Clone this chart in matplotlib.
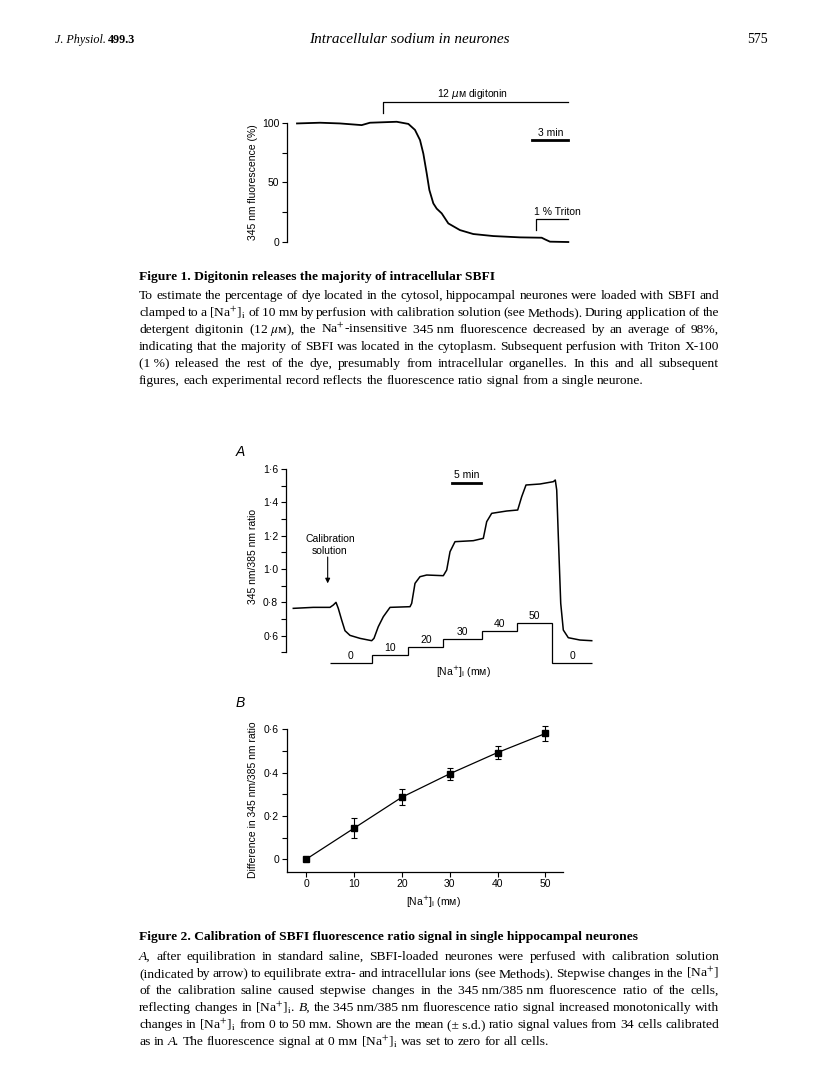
import numpy as np
import matplotlib
matplotlib.use("Agg")
import matplotlib.pyplot as plt
from matplotlib.ticker import FuncFormatter

plt.rcParams["mathtext.fontset"] = "stix"

SERIF = ["Liberation Serif", "DejaVu Serif", "DejaVu Sans"]
SANS = ["Liberation Sans", "DejaVu Sans"]

# Figure 1: 345 nm fluorescence (%) against time (min)
fig1_time = [0, 1.92, 3.58, 5.39, 6.08, 8.31, 9.28, 9.83, 10.25, 10.53, 10.81,
             11.03, 11.36, 11.64, 12.06, 12.61, 13.58, 14.69, 16.36, 18.58,
             20.39, 20.67, 21.08, 22.61]
fig1_fluor = [99.4, 100, 99.4, 98, 100, 100.8, 99, 94, 85.5, 74, 57.5,
              43.6, 32.4, 28, 24, 15.6, 10, 6.7, 5, 3.9,
              3.6, 2.2, 0.3, 0]
digitonin_on = 7.19
triton_on = 19.92

# Figure 2A: ratio trace against time (min)
trace_time = [0, 3.49, 6.40, 6.98, 7.45, 7.85, 8.44, 9.02, 9.89, 11.64, 13.68,
              14.08, 14.83, 15.71, 16.88, 20.37, 20.66, 21.24, 22.11, 23.28,
              26.18, 26.77, 27.35, 28.22, 31.41, 33.16, 33.75, 34.62, 37.24,
              39.16, 39.86, 40.61, 43.05, 45.38, 45.72, 45.97, 46.25, 46.67,
              47.12, 47.99, 50.03, 52.08]
trace_ratio = [0.764, 0.77, 0.77, 0.784, 0.80, 0.764, 0.694, 0.63, 0.602, 0.584, 0.57,
               0.584, 0.654, 0.714, 0.77, 0.774, 0.794, 0.914, 0.954, 0.964,
               0.96, 0.994, 1.104, 1.164, 1.17, 1.184, 1.284, 1.334, 1.348,
               1.354, 1.434, 1.504, 1.51, 1.524, 1.534, 1.474, 1.194, 0.794,
               0.634, 0.588, 0.574, 0.57]
na_steps = [0, 10, 20, 30, 40, 50, 0]
step_edges = [6.40, 13.68, 20.07, 26.18, 32.87, 38.99, 45.20, 52.08]
step_labels = ["0", "10", "20", "30", "40", "50", "0"]

# Figure 2B: calibration curve
na_conc = [0, 10, 20, 30, 40, 50]
ratio_diff = [0, 0.143, 0.286, 0.394, 0.492, 0.58]
ratio_sd = [0, 0.046, 0.037, 0.028, 0.028, 0.034]

W, H = 816, 1088
fig = plt.figure(figsize=(W / 100, H / 100), dpi=100)
renderer = fig.canvas.get_renderer()


def add_ax(left, top, right, bottom):
    return fig.add_axes([left / W, 1 - bottom / H, (right - left) / W, (bottom - top) / H])


def ftext(x, y, s, **kw):
    return fig.text(x / W, 1 - y / H, s, **kw)


def style_axis(ax):
    for side in ["top", "right", "bottom"]:
        ax.spines[side].set_visible(False)
    ax.spines["left"].set_linewidth(0.9)
    ax.tick_params(axis="y", which="both", direction="out", length=3.5, width=0.8,
                   labelsize=7.5, pad=2)
    ax.set_xticks([])
    ax.patch.set_alpha(0)
    for lab in ax.get_yticklabels():
        lab.set_family(SANS)


dot_fmt = FuncFormatter(lambda v, p: "0" if abs(v) < 1e-9 else f"{v:.1f}".replace(".", "\u00b7"))

# ---------------- header ----------------
jp = ftext(55, 43, "J. Physiol.", fontsize=8.7, style="italic", family=SERIF, va="baseline")
jp_w = jp.get_window_extent(renderer).width
ftext(55 + jp_w + 2, 43, "499.3", fontsize=8.7, weight="bold", family=SERIF, va="baseline")
ftext(409, 43, "Intracellular sodium in neurones", fontsize=11, style="italic",
      family=SERIF, ha="center", va="baseline")
ftext(768, 43, "575", fontsize=10, family=SERIF, ha="right", va="baseline")

# ---------------- Figure 1 ----------------
ax1 = add_ax(286.8, 92.9, 585, 245.6)
ax1.plot(fig1_time, fig1_fluor, color="black", lw=1.3, clip_on=False)
ax1.set_xlim(-0.85, 24.0)
ax1.set_ylim(-3, 125)
ax1.set_yticks([0, 50, 100])
ax1.set_yticks([25, 75], minor=True)
ax1.spines["left"].set_bounds(0, 100)
style_axis(ax1)
ax1.plot([digitonin_on, digitonin_on, fig1_time[-1]], [108, 117.3, 117.3],
         color="black", lw=0.9, clip_on=False)
ax1.text(14.6, 124.4, "12 $\\mu$\u1d0d digitonin", fontsize=7.5, family=SANS,
         ha="center", va="center", math_fontfamily="dejavusans")
ax1.plot([triton_on, triton_on, fig1_time[-1]], [10, 19.5, 19.5],
         color="black", lw=0.9, clip_on=False)
ax1.text(21.7, 25.4, "1 % Triton", fontsize=7.5, family=SANS, ha="center", va="center")
ax1.plot([19.6, 22.6], [85.5, 85.5], color="black", lw=2, clip_on=False)
ax1.text(21.1, 91.6, "3 min", fontsize=7.5, family=SANS, ha="center", va="center")
ftext(253, 182, "345 nm fluorescence (%)", fontsize=7.5, family=SANS,
      rotation=90, ha="center", va="center")

# ---------------- Figure 2A ----------------
ax2 = add_ax(285.85, 459.0, 597, 655.7)
ax2.plot(trace_time, trace_ratio, color="black", lw=1.1, clip_on=False)
ax2.set_xlim(-1.3, 53)
ax2.set_ylim(0.48, 1.66)
ax2.set_yticks([0.6, 0.8, 1.0, 1.2, 1.4, 1.6])
ax2.set_yticks(np.arange(0.5, 1.65, 0.1), minor=True)
ax2.yaxis.set_major_formatter(dot_fmt)
ax2.spines["left"].set_bounds(0.5, 1.6)
style_axis(ax2)
ax2.plot([27.75, 32.75], [1.514, 1.514], color="black", lw=2, clip_on=False)
ax2.text(30.26, 1.564, "5 min", fontsize=7.5, family=SANS, ha="center", va="center")
ax2.text(6.4, 1.144, "Calibration\nsolution", fontsize=7.5, family=SANS,
         ha="center", va="center", linespacing=1.25)
ax2.annotate("", xy=(6.0, 0.914), xytext=(6.0, 1.072),
             arrowprops=dict(arrowstyle="-|>", lw=0.8, color="black",
                             mutation_scale=7, shrinkA=0, shrinkB=0))
ftext(253, 557, "345 nm/385 nm ratio", fontsize=7.5, family=SANS,
      rotation=90, ha="center", va="center")
ftext(240, 452, "A", fontsize=10, style="italic", family=SANS, ha="center", va="center")

ax_st = add_ax(285.85, 600, 597, 690)
ax_st.stairs(na_steps, step_edges, baseline=None, color="black", lw=0.9)
ax_st.set_xlim(-1.3, 53)
ax_st.set_ylim(-32.96, 78.15)
ax_st.axis("off")
for i, lab in enumerate(step_labels):
    mid = (step_edges[i] + step_edges[i + 1]) / 2
    ax_st.annotate(lab, (mid, na_steps[i]), xytext=(0, 1.5), textcoords="offset points",
                   fontsize=7.5, family=SANS, ha="center", va="bottom")
ftext(463, 672, "[Na$^{+}$]$_{\\mathrm{i}}$ (m\u1d0d)", fontsize=7.5, family=SANS,
      ha="center", va="center", math_fontfamily="dejavusans")

# ---------------- Figure 2B ----------------
ax3 = add_ax(286.7, 722.6, 563.2, 871.7)
ax3.errorbar(na_conc, ratio_diff, yerr=ratio_sd, color="black", lw=0.9,
             marker="s", markersize=5, capsize=2.2, elinewidth=0.8, capthick=0.8)
ax3.set_xlim(-4.03, 53.7)
ax3.set_ylim(-0.057, 0.63)
ax3.set_yticks([0, 0.2, 0.4, 0.6])
ax3.set_yticks([0.1, 0.3, 0.5], minor=True)
ax3.yaxis.set_major_formatter(dot_fmt)
ax3.spines["left"].set_bounds(-0.057, 0.6)
style_axis(ax3)
ax3.spines["bottom"].set_visible(True)
ax3.spines["bottom"].set_linewidth(0.9)
ax3.set_xticks(na_conc)
ax3.tick_params(axis="x", direction="out", length=3.5, width=0.8, labelsize=7.5, pad=2)
for lab in ax3.get_xticklabels():
    lab.set_family(SANS)
ftext(253, 800, "Difference in 345 nm/385 nm ratio", fontsize=7.5, family=SANS,
      rotation=90, ha="center", va="center")
ftext(433, 902, "[Na$^{+}$]$_{\\mathrm{i}}$ (m\u1d0d)", fontsize=7.5, family=SANS,
      ha="center", va="center", math_fontfamily="dejavusans")
ftext(240, 703, "B", fontsize=10, style="italic", family=SANS, ha="center", va="center")

# ---------------- captions ----------------
X0, X1 = 139, 719
CAP = 9.7
NA_I = "[Na$^{+}$]$_{\\mathrm{i}}$"


def place_line(y, line, justify=True, size=CAP):
    texts = []
    for w in line.split(" "):
        st = "normal"
        if len(w) > 2 and w.startswith("_") and w.endswith("_"):
            w, st = w[1:-1], "italic"
        texts.append(ftext(X0, y, w, fontsize=size, family=SERIF, style=st, va="baseline"))
    widths = [t.get_window_extent(renderer).width for t in texts]
    space = 0.25 * size * 100 / 72
    if justify and len(texts) > 1:
        space = (X1 - X0 - sum(widths)) / (len(texts) - 1)
    x = X0
    for t, w in zip(texts, widths):
        t.set_x(x / W)
        x += w + space


fig1_caption = [
    "To estimate the percentage of dye located in the cytosol, hippocampal neurones were loaded with SBFI and",
    f"clamped to a {NA_I} of 10\u00a0m\u1d0d by perfusion with calibration solution (see Methods). During application of the",
    "detergent digitonin (12\u00a0$\\mu$\u1d0d), the Na$^{+}$-insensitive 345\u00a0nm fluorescence decreased by an average of 98%,",
    "indicating that the majority of SBFI was located in the cytoplasm. Subsequent perfusion with Triton X-100",
    "(1\u00a0%) released the rest of the dye, presumably from intracellular organelles. In this and all subsequent",
    "figures, each experimental record reflects the fluorescence ratio signal from a single neurone.",
]
fig2_caption = [
    "_A,_ after equilibration in standard saline, SBFI-loaded neurones were perfused with calibration solution",
    "(indicated by arrow) to equilibrate extra- and intracellular ions (see Methods). Stepwise changes in the [Na$^{+}$]",
    "of the calibration saline caused stepwise changes in the 345\u00a0nm/385\u00a0nm fluorescence ratio of the cells,",
    f"reflecting changes in {NA_I}. _B,_ the 345\u00a0nm/385\u00a0nm fluorescence ratio signal increased monotonically with",
    f"changes in {NA_I} from 0 to 50\u00a0m\u1d0d. Shown are the mean (\u00b1\u00a0s.d.) ratio signal values from 34 cells calibrated",
    f"as in _A._ The fluorescence signal at 0\u00a0m\u1d0d {NA_I} was set to zero for all cells.",
]

ftext(X0, 280, "Figure 1. Digitonin releases the majority of intracellular SBFI",
      fontsize=CAP, weight="bold", family=SERIF, va="baseline")
for k, line in enumerate(fig1_caption):
    place_line(299 + 17 * k, line, justify=k < len(fig1_caption) - 1)

ftext(X0, 940, "Figure 2. Calibration of SBFI fluorescence ratio signal in single hippocampal neurones",
      fontsize=CAP, weight="bold", family=SERIF, va="baseline")
for k, line in enumerate(fig2_caption):
    place_line(960 + 17 * k, line, justify=k < len(fig2_caption) - 1)

fig.savefig("out.png", dpi=100)
